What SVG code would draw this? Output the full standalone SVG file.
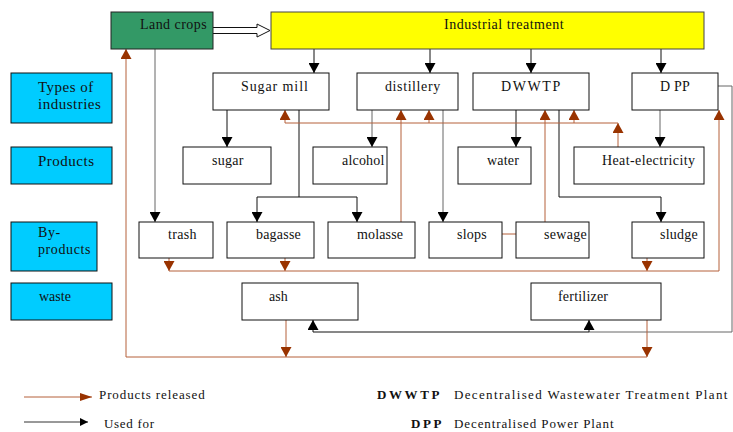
<svg xmlns="http://www.w3.org/2000/svg" width="733" height="432" viewBox="0 0 733 432">
<style>
.box{fill:#fff;stroke:#111;stroke-width:1}
.lab{fill:#00ccff;stroke:#111;stroke-width:1}
text{font-family:"Liberation Serif","Times New Roman",serif;font-size:14px;fill:#111;letter-spacing:0.3px}
.ll{font-size:15px;letter-spacing:0.5px}
.blk{fill:none;stroke:#111;stroke-width:1}
.gry{fill:none;stroke:#666;stroke-width:1}
.brn{fill:none;stroke:#b5603a;stroke-width:1}
.leg{font-size:13px;letter-spacing:0.9px}
.bold{font-size:13px;font-weight:bold;letter-spacing:2.6px}
</style>
<defs>
<marker id="ab" markerUnits="userSpaceOnUse" markerWidth="11" markerHeight="11" refX="10" refY="5.5" orient="auto" viewBox="0 0 11 11">
<path d="M0,0 L10,5.5 L0,11 z" fill="#000"/>
</marker>
<marker id="ar" markerUnits="userSpaceOnUse" markerWidth="11" markerHeight="11" refX="10" refY="5.5" orient="auto" viewBox="0 0 11 11">
<path d="M0,0 L10,5.5 L0,11 z" fill="#993300"/>
</marker>
<marker id="abs" markerUnits="userSpaceOnUse" markerWidth="9" markerHeight="8" refX="8" refY="4" orient="auto" viewBox="0 0 9 8">
<path d="M0,0 L8,4 L0,8 z" fill="#000"/>
</marker>
<marker id="ars" markerUnits="userSpaceOnUse" markerWidth="13" markerHeight="8" refX="12" refY="4" orient="auto" viewBox="0 0 13 8">
<path d="M0,0 L12,4 L0,8 z" fill="#993300"/>
</marker>
</defs>

<g id="connectors">
<path d="M213,27.5 H257 V24 L270,30.5 L257,37 V33.5 H213" fill="#fff" stroke="#111" stroke-width="1"/>
<path class="gry" d="M155,49 V222" marker-end="url(#ab)"/>
<path class="blk" d="M314,49 V73" marker-end="url(#ab)"/>
<path class="blk" d="M430,49 V73" marker-end="url(#ab)"/>
<path class="blk" d="M531,49 V73" marker-end="url(#ab)"/>
<path class="blk" d="M661,49 V73" marker-end="url(#ab)"/>
<path class="blk" d="M227,110 V147" marker-end="url(#ab)"/>
<path class="blk" d="M299,110 V197 H257 V222" marker-end="url(#ab)"/>
<path class="blk" d="M299,197 H357 V222" marker-end="url(#ab)"/>
<path class="gry" d="M372,110 V147" marker-end="url(#ab)"/>
<path class="gry" d="M443,110 V222" marker-end="url(#ab)"/>
<path class="blk" d="M516,110 V147" marker-end="url(#ab)"/>
<path class="blk" d="M559,110 V197 H661 V222" marker-end="url(#ab)"/>
<path class="gry" d="M660,110 V147" marker-end="url(#ab)"/>
<path class="gry" d="M718,86 H732 V332 H589"/>
<path class="blk" d="M589,332 H313 V320" marker-end="url(#ab)"/>
<path class="blk" d="M589,332 V320" marker-end="url(#ab)"/>
<path class="brn" d="M647,357 H126 V49" marker-end="url(#ar)"/>
<path class="brn" d="M286,320 V357" marker-end="url(#ar)"/>
<path class="brn" d="M647,320 V357" marker-end="url(#ar)"/>
<path class="brn" d="M169,258 V271" marker-end="url(#ar)"/>
<path class="brn" d="M285,258 V271" marker-end="url(#ar)"/>
<path class="brn" d="M647,258 V271" marker-end="url(#ar)"/>
<path class="brn" d="M169,271 H719 V110" marker-end="url(#ar)"/>
<path class="brn" d="M618,147 V123" marker-end="url(#ar)"/>
<path class="brn" d="M618,123 H285 V110" marker-end="url(#ar)"/>
<path class="brn" d="M429,123 V110" marker-end="url(#ar)"/>
<path class="brn" d="M574,123 V110" marker-end="url(#ar)"/>
<path class="brn" d="M401,222 V110" marker-end="url(#ar)"/>
<path class="brn" d="M545,222 V110" marker-end="url(#ar)"/>
<path class="brn" d="M502,234 H516"/>
</g>

<g id="land-crops"><rect x="111" y="12" width="102" height="37" fill="#339966" stroke="#222"/><text x="140" y="29" style="letter-spacing:0.45px">Land crops</text></g>
<g id="industrial-treatment"><rect x="271" y="12" width="433" height="37" fill="#ffff00" stroke="#444"/><text x="444" y="29" style="letter-spacing:0.5px">Industrial treatment</text></g>

<g id="label-types"><rect class="lab" x="11" y="73" width="101" height="50"/><text class="ll" x="38" y="92">Types of</text><text class="ll" x="38" y="109">industries</text></g>
<g id="label-products"><rect class="lab" x="11" y="147" width="101" height="37"/><text class="ll" x="38" y="166">Products</text></g>
<g id="label-byproducts"><rect class="lab" x="11" y="222" width="86" height="49"/><text x="38" y="237" style="font-size:14px;letter-spacing:0.6px">By-</text><text x="38" y="254" style="font-size:14px;letter-spacing:0.6px">products</text></g>
<g id="label-waste"><rect class="lab" x="11" y="283" width="101" height="37"/><text x="39" y="301" style="letter-spacing:0px">waste</text></g>

<g id="sugar-mill"><rect class="box" x="213" y="73" width="116" height="37"/><text x="241" y="91" style="letter-spacing:0.9px">Sugar mill</text></g>
<g id="distillery"><rect class="box" x="357" y="73" width="101" height="37"/><text x="385" y="91" style="letter-spacing:0.6px">distillery</text></g>
<g id="dwwtp"><rect class="box" x="473" y="73" width="116" height="37"/><text x="501" y="91" style="letter-spacing:1.6px">DWWTP</text></g>
<g id="dpp"><rect class="box" x="632" y="73" width="86" height="37"/><text x="660" y="91" style="letter-spacing:0.2px">D PP</text></g>

<g id="sugar"><rect class="box" x="183" y="147" width="88" height="37"/><text x="212" y="165">sugar</text></g>
<g id="alcohol"><rect class="box" x="313" y="147" width="74" height="37"/><text x="342" y="165" style="letter-spacing:0.2px">alcohol</text></g>
<g id="water"><rect class="box" x="458" y="147" width="73" height="37"/><text x="487" y="165" style="letter-spacing:0.2px">water</text></g>
<g id="heat-electricity"><rect class="box" x="574" y="147" width="130" height="37"/><text x="602" y="165" style="letter-spacing:0.4px">Heat-electricity</text></g>

<g id="trash"><rect class="box" x="139" y="222" width="74" height="36"/><text x="168" y="239">trash</text></g>
<g id="bagasse"><rect class="box" x="227" y="222" width="87" height="36"/><text x="256" y="239" style="letter-spacing:0.2px">bagasse</text></g>
<g id="molasse"><rect class="box" x="328" y="222" width="87" height="36"/><text x="357" y="239" style="letter-spacing:0.15px">molasse</text></g>
<g id="slops"><rect class="box" x="429" y="222" width="73" height="36"/><text x="457" y="239" style="letter-spacing:0.25px">slops</text></g>
<g id="sewage"><rect class="box" x="516" y="222" width="73" height="36"/><text x="544" y="239" style="letter-spacing:0.3px">sewage</text></g>
<g id="sludge"><rect class="box" x="632" y="222" width="72" height="36"/><text x="660" y="239" style="letter-spacing:0.25px">sludge</text></g>

<g id="ash"><rect class="box" x="242" y="283" width="116" height="37"/><text x="269" y="301" style="letter-spacing:0px">ash</text></g>
<g id="fertilizer"><rect class="box" x="531" y="283" width="130" height="37"/><text x="558" y="301" style="letter-spacing:0.2px">fertilizer</text></g>

<g id="legend">
<path d="M24,397 H92" stroke="#b5603a" stroke-width="1" fill="none" marker-end="url(#ars)"/>
<text class="leg" x="99" y="399">Products released</text>
<path d="M24,422 H88" stroke="#333" stroke-width="1" fill="none" marker-end="url(#abs)"/>
<text class="leg" x="104" y="428" style="letter-spacing:0.7px">Used for</text>
<text class="bold" x="377" y="399">DWWTP</text>
<text class="leg" x="454" y="399" style="letter-spacing:1.35px">Decentralised Wastewater Treatment Plant</text>
<text class="bold" x="411" y="428">DPP</text>
<text class="leg" x="454" y="428" style="letter-spacing:0.9px">Decentralised Power Plant</text>
</g>
</svg>
